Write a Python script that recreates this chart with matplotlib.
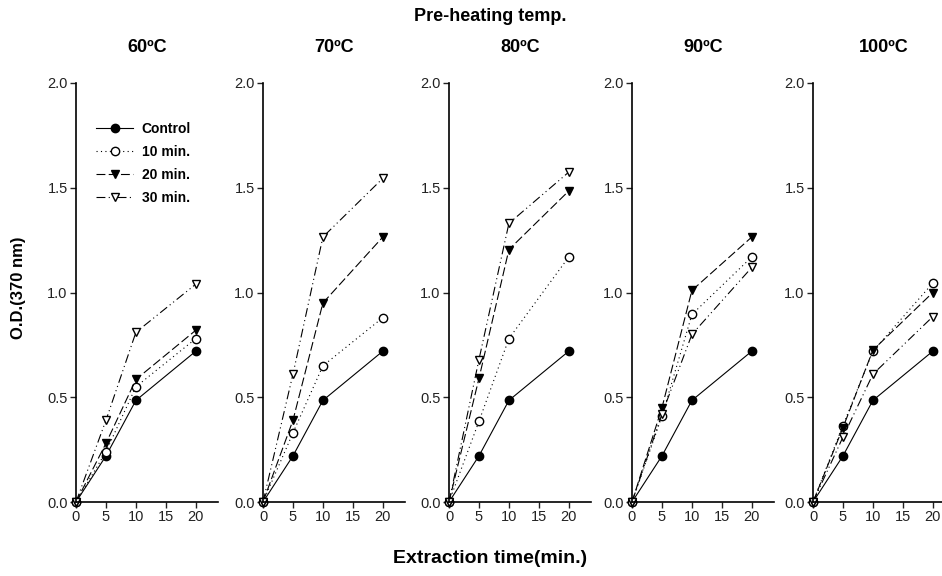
import numpy as np
import matplotlib
matplotlib.use('Agg')
import matplotlib.pyplot as plt

plt.rcParams['font.family'] = ['Liberation Sans', 'DejaVu Sans']

# extraction time (min.)
times = [0, 5, 10, 20]
temps = ['60ºC', '70ºC', '80ºC', '90ºC', '100ºC']

# O.D.(370 nm) per pre-heating temp
control = [0, 0.22, 0.485, 0.72]
min10 = [[0, 0.24, 0.55, 0.78],
         [0, 0.33, 0.65, 0.88],
         [0, 0.385, 0.78, 1.17],
         [0, 0.41, 0.895, 1.17],
         [0, 0.365, 0.72, 1.045]]
min20 = [[0, 0.28, 0.585, 0.82],
         [0, 0.39, 0.95, 1.265],
         [0, 0.59, 1.205, 1.485],
         [0, 0.45, 1.01, 1.265],
         [0, 0.355, 0.725, 1.0]]
min30 = [[0, 0.39, 0.81, 1.04],
         [0, 0.61, 1.265, 1.545],
         [0, 0.68, 1.33, 1.575],
         [0, 0.42, 0.80, 1.12],
         [0, 0.31, 0.61, 0.885]]

fig = plt.figure(figsize=(9.42, 5.76), dpi=100)

lefts = [76, 263, 449, 632, 813]
for i, temp in enumerate(temps):
    ax = fig.add_axes([lefts[i] / 942, 1 - 502 / 576, 142 / 942, 419 / 576])
    kw = dict(color='black', lw=0.8, ms=6, clip_on=False)
    ax.plot(times, control, linestyle='-', marker='o', mfc='black', label='Control', **kw)
    ax.plot(times, min10[i], linestyle=(0, (1, 3)), marker='o', mfc='white', label='10 min.', **kw)
    ax.plot(times, min20[i], linestyle=(0, (8, 3)), marker='v', mfc='black', label='20 min.', **kw)
    ax.plot(times, min30[i], linestyle=(0, (8, 3, 1, 3, 1, 3)), marker='v', mfc='white', label='30 min.', **kw)

    ax.set_xlim(0, 23.7)
    ax.set_ylim(0, 2.0)
    ax.set_xticks([0, 5, 10, 15, 20])
    ax.set_yticks([0, 0.5, 1.0, 1.5, 2.0])
    ax.set_yticklabels(['0.0', '0.5', '1.0', '1.5', '2.0'])
    for s in ['top', 'right']:
        ax.spines[s].set_visible(False)
    for s in ['left', 'bottom']:
        ax.spines[s].set_linewidth(1.2)
    ax.tick_params(direction='out', length=4, width=1, labelsize=10.5, colors='#222222', pad=2)
    ax.set_title(temp, fontsize=13, fontweight='bold', pad=22)

    if i == 0:
        leg = ax.legend(loc='upper left', bbox_to_anchor=(0.1, 0.92), frameon=False,
                        handlelength=2.7, handletextpad=0.6, labelspacing=0.65,
                        borderaxespad=0, prop={'weight': 'bold', 'size': 10})

fig.text(0.52, 0.972, 'Pre-heating temp.', ha='center', va='center', fontsize=13, fontweight='bold')
fig.text(0.52, 0.03, 'Extraction time(min.)', ha='center', va='center', fontsize=14, fontweight='bold')
fig.text(0.02, 0.5, 'O.D.(370 nm)', ha='center', va='center', rotation=90, fontsize=12, fontweight='bold')

fig.savefig('out.png', dpi=100)
